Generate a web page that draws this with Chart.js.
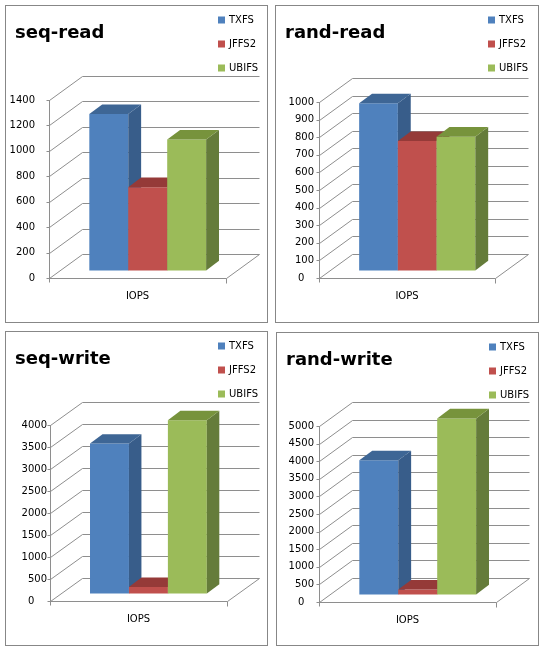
<!DOCTYPE html>
<html>
<head>
<meta charset="utf-8">
<script src="https://cdn.jsdelivr.net/npm/chart.js@4.4.0/dist/chart.umd.min.js"></script>
<style>
  body { margin: 0; background: #fff; }
  .panel { position: absolute; border: 1px solid #878787; background: #fff; }
  .panel canvas { display: block; }
</style>
</head>
<body>
<div class="panel" style="left:5px;top:5px;"><canvas id="c0" width="261" height="316"></canvas></div>
<div class="panel" style="left:275px;top:5px;"><canvas id="c1" width="262" height="316"></canvas></div>
<div class="panel" style="left:5px;top:331px;"><canvas id="c2" width="261" height="313"></canvas></div>
<div class="panel" style="left:276px;top:332px;"><canvas id="c3" width="261" height="312"></canvas></div>
<script>
// Data
const categories = ['IOPS'];
const seriesNames = ['TXFS', 'JFFS2', 'UBIFS'];
const chartTitles = ['seq-read', 'rand-read', 'seq-write', 'rand-write'];
const seqRead = [1230, 655, 1030];
const randRead = [950, 735, 760];
const seqWrite = [3410, 150, 3940];
const randWrite = [3810, 140, 5000];
const axisMax = [1400, 1000, 4000, 5000];
const axisStep = [200, 100, 500, 500];

// Office colours: front, side, top
const frontColors = ['#4f81bd', '#c0504d', '#9bbb59'];
const sideColors = ['#385d8a', '#8c3836', '#657c3a'];
const topColors = ['#3e6695', '#953a38', '#77933c'];

const FONT = 'DejaVu Sans';

// Layout of each panel (canvas coords): front plane of the plot, depth offset
const layouts = [
    { left: 43, right: 220, top: 94, bottom: 272, dx: 33, dy: 24.5, pad: 14, zeroPad: 0 },
    { left: 43, right: 219, top: 96, bottom: 272, dx: 33, dy: 24.5, pad: 5, zeroPad: 3 },
    { left: 44, right: 221, top: 93, bottom: 269, dx: 32, dy: 24, pad: 3, zeroPad: 4 },
    { left: 42, right: 219, top: 93, bottom: 269, dx: 33, dy: 24.5, pad: 5, zeroPad: 3 },
];

function line(ctx, x1, y1, x2, y2) {
    ctx.beginPath();
    ctx.moveTo(x1, y1);
    ctx.lineTo(x2, y2);
    ctx.stroke();
}

function poly(ctx, pts, color) {
    ctx.beginPath();
    ctx.moveTo(pts[0][0], pts[0][1]);
    for (let i = 1; i < pts.length; i++) ctx.lineTo(pts[i][0], pts[i][1]);
    ctx.closePath();
    ctx.fillStyle = color;
    ctx.fill();
}

// Fake 3D walls, bars, title and legend
const bars3d = {
    id: 'bars3d',
    beforeDatasetsDraw(chart, args, opts) {
        const ctx = chart.ctx;
        const { left, right, bottom } = chart.chartArea;
        const y = chart.scales.y;
        const dx = opts.dx, dy = opts.dy;
        const L = Math.round(left) + 0.5, R = Math.round(right) + 0.5;
        ctx.save();
        ctx.strokeStyle = '#8e8e8e';
        ctx.lineWidth = 1;
        y.ticks.forEach(t => {
            const py = Math.round(y.getPixelForValue(t.value)) + 0.5;
            const by = Math.round(py - dy) + 0.5;
            line(ctx, L, py, L + dx, by);
            line(ctx, L + dx, by, R + dx, by);
            line(ctx, L - 3, py, L, py);
        });
        const B = Math.round(bottom) + 0.5;
        line(ctx, L, Math.round(y.top), L, B + 4);
        line(ctx, L, B, R, B);
        line(ctx, R, B, R + dx, Math.round(B - dy) + 0.5);
        line(ctx, R, B, R, B + 5);
        ctx.restore();
    },
    beforeDatasetDraw() {
        return false;
    },
    afterDatasetsDraw(chart, args, opts) {
        const ctx = chart.ctx;
        const ox = opts.f0 * opts.dx, oy = opts.f0 * opts.dy;
        const bx = (opts.f1 - opts.f0) * opts.dx, by = (opts.f1 - opts.f0) * opts.dy;
        ctx.save();
        chart.data.datasets.forEach((ds, i) => {
            const el = chart.getDatasetMeta(i).data[0];
            const x0 = el.x - el.width / 2 + ox, x1 = el.x + el.width / 2 + ox;
            const yt = el.y - oy, yb = el.base - oy;
            poly(ctx, [[x0, yt], [x1, yt], [x1, yb], [x0, yb]], ds.backgroundColor);
            poly(ctx, [[x1, yt], [x1 + bx, yt - by], [x1 + bx, yb - by], [x1, yb]], sideColors[i]);
            poly(ctx, [[x0, yt], [x0 + bx, yt - by], [x1 + bx, yt - by], [x1, yt]], topColors[i]);
        });
        ctx.restore();
    },
    afterDraw(chart, args, opts) {
        const ctx = chart.ctx;
        ctx.save();
        ctx.fillStyle = '#000';
        ctx.font = 'bold 18px ' + FONT;
        ctx.textBaseline = 'alphabetic';
        ctx.fillText(opts.title, 9, 32);
        ctx.font = '10px ' + FONT;
        ctx.textBaseline = 'middle';
        chart.data.datasets.forEach((ds, i) => {
            const cy = 14 + i * 24;
            ctx.fillStyle = ds.backgroundColor;
            ctx.fillRect(212, cy - 3.5, 7, 7);
            ctx.fillStyle = '#000';
            ctx.fillText(ds.label, 223, cy + 0.5);
        });
        ctx.restore();
    }
};

function makeChart(idx, values) {
    const canvas = document.getElementById('c' + idx);
    const lay = layouts[idx];
    const W = canvas.width, H = canvas.height;
    const xAxisH = 30;
    return new Chart(canvas, {
        type: 'bar',
        data: {
            labels: categories,
            datasets: seriesNames.map((name, i) => ({
                label: name,
                data: [values[i]],
                backgroundColor: frontColors[i],
            })),
        },
        options: {
            responsive: false,
            animation: false,
            devicePixelRatio: 1,
            layout: {
                padding: { left: 0, top: lay.top, right: W - lay.right, bottom: H - lay.bottom - xAxisH },
            },
            datasets: { bar: { categoryPercentage: 0.66, barPercentage: 1 } },
            scales: {
                x: {
                    grid: { display: false, drawTicks: false },
                    border: { display: false },
                    ticks: { color: '#000', font: { family: FONT, size: 10 }, padding: 12 },
                    afterFit: s => { s.height = xAxisH; },
                },
                y: {
                    min: 0,
                    max: axisMax[idx],
                    grid: { display: false, drawTicks: false },
                    border: { display: false },
                    ticks: {
                        stepSize: axisStep[idx],
                        color: '#000',
                        font: { family: FONT, size: 10 },
                        padding: lay.pad,
                        callback: v => v === 0 ? '0' + ' '.repeat(lay.zeroPad) : String(v),
                    },
                    afterFit: s => { s.width = lay.left; },
                },
            },
            plugins: {
                legend: { display: false },
                title: { display: false },
                tooltip: { enabled: false },
                bars3d: { dx: lay.dx, dy: lay.dy, f0: 0.31, f1: 0.70, title: chartTitles[idx] },
            },
        },
        plugins: [bars3d],
    });
}

makeChart(0, seqRead);
makeChart(1, randRead);
makeChart(2, seqWrite);
makeChart(3, randWrite);
</script>
</body>
</html>
